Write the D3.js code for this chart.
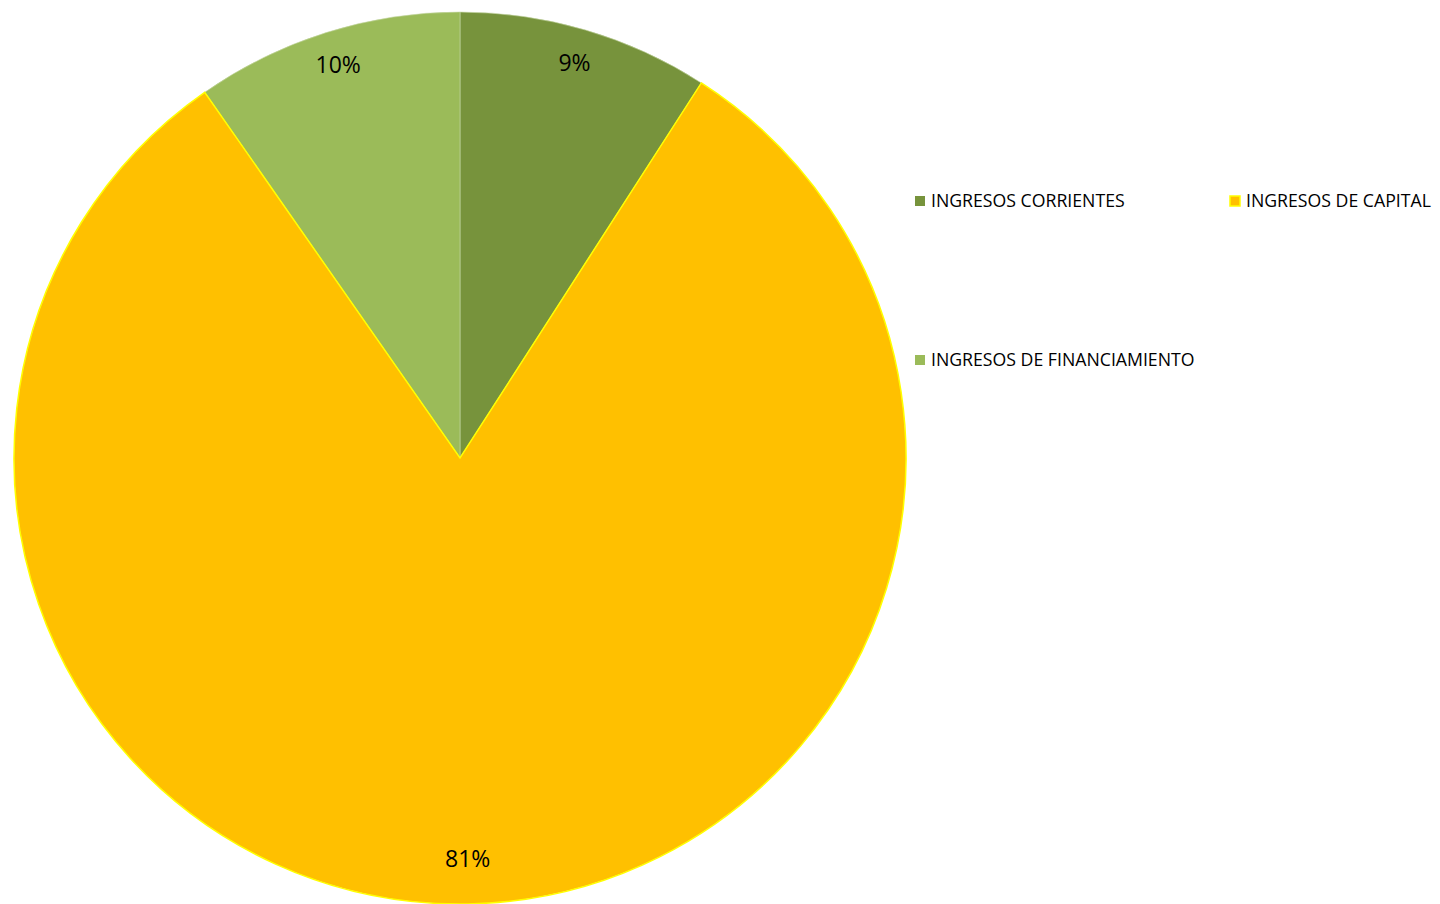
<!DOCTYPE html>
<html>
<head>
	<meta charset="utf-8">
	<title>Ingresos</title>
	<script src="https://d3js.org/d3.v7.min.js"></script>
	<style>
		body { margin: 0; background: #fff; }
		text { font-family: "Open Sans", sans-serif; fill: #000; }
	</style>
</head>
<body>
<script>
	// data (percent shares)
	var categories = ["INGRESOS CORRIENTES", "INGRESOS DE CAPITAL", "INGRESOS DE FINANCIAMIENTO"];
	var values = [9.1, 81.2, 9.7];
	var labels = ["9%", "81%", "10%"];
	var colors = ["#77933C", "#FFC000", "#9BBB59"];
	var strokes = ["none", "#FFFF00", "none"];

	var width = 1440, height = 904;
	var cx = 460, cy = 458, radius = 446;

	var svg = d3.select("body").append("svg")
			.attr("width", width)
			.attr("height", height);

	var data = categories.map(function(c, i) {
		return {name: c, value: values[i], label: labels[i], color: colors[i], stroke: strokes[i]};
	});

	var pie = d3.pie().sort(null).value(function(d) { return d.value; });
	var arc = d3.arc().innerRadius(0).outerRadius(radius);
	var labelArc = d3.arc().innerRadius(406).outerRadius(406);

	var g = svg.append("g")
			.attr("transform", "translate(" + cx + "," + cy + ")");

	var arcs = pie(data);

	g.selectAll(".slice")
			.data(arcs)
			.enter()
			.append("path")
			.attr("class", "slice")
			.attr("d", arc)
			.style("fill", function(d) { return d.data.color; })
			.style("stroke", function(d) { return d.data.stroke == "none" ? "#c8d8a8" : d.data.stroke; })
			.style("stroke-width", function(d) { return d.data.stroke == "none" ? 0.6 : 1.5; });

	// yellow slice on top so its border stays visible
	g.selectAll(".slice").filter(function(d) { return d.data.stroke != "none"; }).raise();

	g.selectAll(".lbl")
			.data(arcs)
			.enter()
			.append("text")
			.attr("class", "lbl")
			.attr("transform", function(d) { return "translate(" + labelArc.centroid(d) + ")"; })
			.attr("text-anchor", "middle")
			.attr("dy", "0.12em")
			.style("font-size", "23px")
			.text(function(d) { return d.data.label; });

	// legend
	var legendPos = [[915, 201], [1230, 201], [915, 360]];
	var legend = svg.append("g").selectAll(".legend")
			.data(data)
			.enter()
			.append("g")
			.attr("class", "legend")
			.attr("transform", function(d, i) { return "translate(" + legendPos[i][0] + "," + legendPos[i][1] + ")"; });

	legend.append("rect")
			.attr("x", 0)
			.attr("y", -5)
			.attr("width", 10)
			.attr("height", 10)
			.style("fill", function(d) { return d.color; })
			.style("stroke", function(d) { return d.stroke; })
			.style("stroke-width", 1.5);

	legend.append("text")
			.attr("x", 16)
			.attr("y", 0)
			.attr("dy", "0.36em")
			.style("font-size", "17.7px")
			.text(function(d) { return d.name; });
</script>
</body>
</html>
